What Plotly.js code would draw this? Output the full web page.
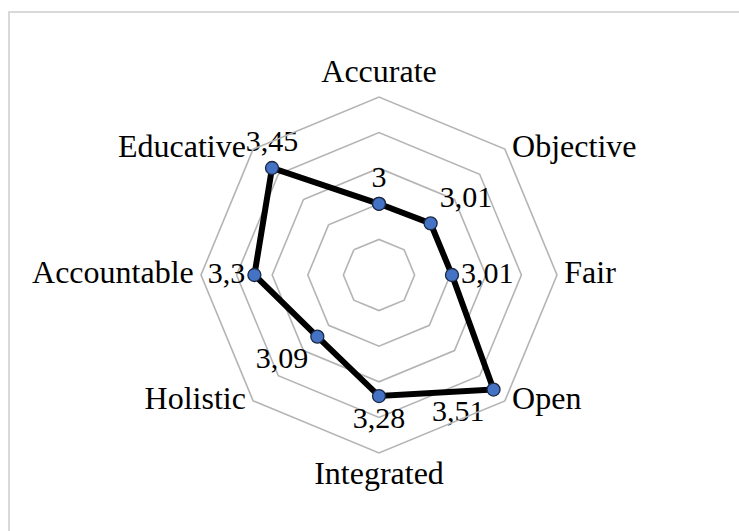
<!DOCTYPE html>
<html>
<head>
<meta charset="utf-8">
<script src="https://cdn.plot.ly/plotly-3.0.1.min.js"></script>
<style>html,body{margin:0;padding:0;background:#fff;}#chart{width:739px;height:531px;}</style>
</head>
<body>
<div id="chart"></div>
<script>
const categories = ["Accurate", "Objective", "Fair", "Open", "Integrated", "Holistic", "Accountable", "Educative"];
const values = [3, 3.01, 3.01, 3.51, 3.28, 3.09, 3.3, 3.45];
const valueLabels = ["3", "3,01", "3,01", "3,51", "3,28", "3,09", "3,3", "3,45"];
const labelPositions = ["top center", "top right", "middle right", "bottom left", "bottom center", "bottom left", "middle left", "top center"];
const categoryLabelPositions = ["top center", "middle right", "middle right", "middle right", "bottom center", "middle left", "middle left", "middle left"];
const gridValues = [2.8, 3.0, 3.2, 3.4];
const radialRange = [2.6, 3.6];

const W = 739, H = 531;
const serif = "Liberation Serif, Times New Roman, serif";

const series = {
  type: "scatterpolar",
  r: values.concat([values[0]]),
  theta: categories.concat([categories[0]]),
  mode: "lines+markers+text",
  text: valueLabels.concat([""]),
  textposition: labelPositions.concat(["top center"]),
  textfont: {family: serif, size: 30, color: "#000"},
  line: {color: "#000", width: 6},
  marker: {size: 13, color: "#4472C4", line: {color: "#1a2740", width: 1.3}},
  cliponaxis: false,
  hoverinfo: "skip",
  showlegend: false
};

const categoryText = {
  type: "scatterpolar",
  r: categories.map(() => radialRange[1]),
  theta: categories,
  mode: "markers+text",
  marker: {size: 10, color: "rgba(0,0,0,0)"},
  text: categories,
  textposition: categoryLabelPositions,
  textfont: {family: serif, size: 32, color: "#000"},
  cliponaxis: false,
  hoverinfo: "skip",
  showlegend: false
};

const layout = {
  width: W, height: H,
  margin: {l: 0, r: 0, t: 0, b: 0},
  paper_bgcolor: "#fff",
  plot_bgcolor: "#fff",
  font: {family: serif, size: 30, color: "#000"},
  showlegend: false,
  polar: {
    domain: {x: [201 / W, 557 / W], y: [(H - 453) / H, (H - 97) / H]},
    bgcolor: "rgba(0,0,0,0)",
    gridshape: "linear",
    angularaxis: {
      direction: "clockwise",
      rotation: 90,
      categoryorder: "array",
      categoryarray: categories,
      showgrid: false,
      showline: true,
      linecolor: "#b4b4b4",
      linewidth: 1.6,
      ticks: "",
      showticklabels: false
    },
    radialaxis: {
      range: radialRange,
      tickvals: gridValues,
      showticklabels: false,
      ticks: "",
      showline: false,
      gridcolor: "#b4b4b4",
      gridwidth: 1.6,
      angle: 90
    }
  },
  shapes: [{
    type: "rect", xref: "paper", yref: "paper",
    x0: 9 / W, x1: 1.05, y0: -0.05, y1: (H - 12) / H,
    line: {color: "#d9d9d9", width: 2}, fillcolor: "rgba(0,0,0,0)", layer: "below"
  }]
};

Plotly.newPlot("chart", [categoryText, series], layout, {staticPlot: true, displayModeBar: false});
</script>
</body>
</html>
